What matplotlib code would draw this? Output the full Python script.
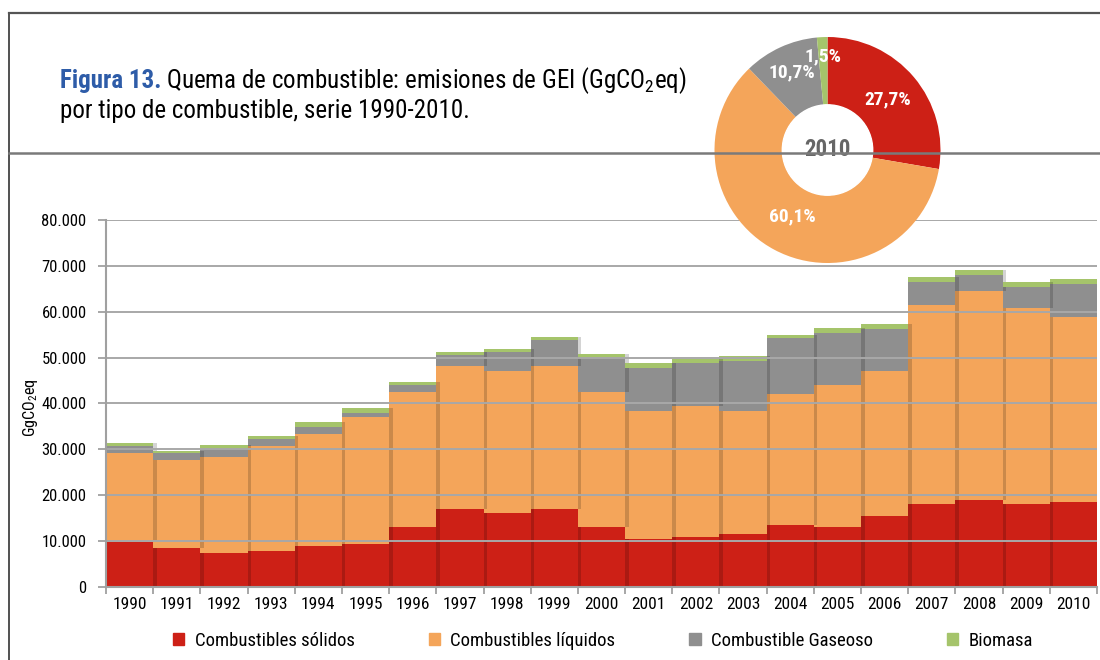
import numpy as np
import matplotlib
matplotlib.use("Agg")
import matplotlib.pyplot as plt
import matplotlib.patches as mpatches
import matplotlib.patheffects as pe
from matplotlib.lines import Line2D
from matplotlib import font_manager as fm
from matplotlib.ticker import FuncFormatter, FixedLocator

# ---------------- data ----------------
years = [str(y) for y in range(1990, 2011)]
solidos = [9740, 8570, 7400, 7840, 9000, 9440, 13140, 16990, 16120, 16990,
           13070, 10460, 10890, 11550, 13510, 13070, 15470, 18080, 18950, 18080, 18520]
liquidos = [19520, 19170, 20990, 22950, 24400, 27660, 29410, 31230, 30940, 31230,
            29410, 27880, 28610, 26790, 28540, 30940, 31590, 43360, 45540, 42700, 40300]
gaseoso = [1460, 1520, 1960, 1520, 1520, 880, 1460, 2320, 4210, 5660,
           7340, 9440, 9230, 10960, 12270, 11390, 9220, 5080, 3550, 4650, 7260]
biomasa = [650, 440, 590, 590, 1030, 1020, 650, 660, 580, 590,
           940, 1020, 870, 960, 580, 1030, 1020, 1020, 1020, 1020, 1020]
series_names = ["Combustibles sólidos", "Combustibles líquidos",
                "Combustible Gaseoso", "Biomasa"]
pie_year = "2010"
pie_share = [27.7, 60.1, 10.7, 1.5]
yticks = [0, 10000, 20000, 30000, 40000, 50000, 60000, 70000, 80000]

colors = ["#cd2016", "#f4a55a", "#8f8f8f", "#a5c46b"]
blue = "#2e5ca8"


def pick(cands):
    for c in cands:
        try:
            fm.findfont(fm.FontProperties(family=c), fallback_to_default=False)
            return c
        except Exception:
            pass
    return "DejaVu Sans"


FONT = pick(["Liberation Sans Narrow", "Roboto Condensed", "Open Sans Condensed",
             "Noto Sans Condensed", "Liberation Sans"])
plt.rcParams["font.family"] = [FONT, "DejaVu Sans"]
plt.rcParams["mathtext.fontset"] = "custom"
plt.rcParams["mathtext.rm"] = FONT
plt.rcParams["mathtext.it"] = FONT
plt.rcParams["mathtext.bf"] = FONT + ":bold"

W, H = 1100, 660
fig = plt.figure(figsize=(11, 6.6), dpi=100)
fig.patch.set_facecolor("white")


def fx(px):
    return px / W


def fy(py):
    return 1 - py / H


# ---------------- frame lines ----------------
fig.add_artist(Line2D([fx(9), fx(9)], [fy(13), fy(660)], color="#333333", lw=1.2))
fig.add_artist(Line2D([fx(9), 1], [fy(13), fy(13)], color="#555555", lw=1.6))
fig.add_artist(Line2D([fx(9), 1], [fy(153), fy(153)], color="#7a7a7a", lw=1.8))

# ---------------- bar chart ----------------
ax = fig.add_axes([fx(106), fy(587), fx(1097) - fx(106), fy(219.8) - fy(587)])
x = np.arange(len(years))
bottom = np.zeros(len(years))
shadow = [pe.SimplePatchShadow(offset=(2.5, 0), shadow_rgbFace="black", alpha=0.17),
          pe.Normal()]
for vals, c in zip([solidos, liquidos, gaseoso, biomasa], colors):
    v = np.array(vals, dtype=float)
    bars = ax.bar(x[::-1], v[::-1], bottom=bottom[::-1], width=1.0, color=c,
                  linewidth=0, zorder=1)
    for b in bars:
        b.set_path_effects(shadow)
    bottom = bottom + v

ax.set_xlim(-0.5, len(years) - 0.5)
ax.set_ylim(0, 80000)
ax.set_axisbelow(False)
ax.yaxis.grid(True, color="#a8a8a8", lw=1.4)
ax.yaxis.set_major_locator(FixedLocator(yticks))
ax.yaxis.set_major_formatter(FuncFormatter(lambda v, p: f"{int(v):,}".replace(",", ".")))
for s in ["top", "right"]:
    ax.spines[s].set_visible(False)
for s in ["left", "bottom"]:
    ax.spines[s].set_color("#a0a0a0")
    ax.spines[s].set_linewidth(1.5)
    ax.spines[s].set_zorder(3)
ax.set_xticks(x)
ax.set_xticklabels(years)
ax.set_xticks(np.arange(-0.5, len(years)), minor=True)
ax.tick_params(axis="x", which="major", length=0, pad=7, labelsize=12.5, colors="black")
ax.tick_params(axis="x", which="minor", length=5, width=1.3, color="#a0a0a0")
ax.tick_params(axis="y", length=6, width=1.3, color="#a0a0a0", labelsize=12, pad=8,
               labelcolor="black")

fig.text(fx(31), fy(408), "GgCO$_2$eq", rotation=90, ha="center", va="center", fontsize=11.5)

# ---------------- legend ----------------
handles = [mpatches.Patch(color=c) for c in colors]
fig.legend(handles, series_names, loc="center", bbox_to_anchor=(fx(603), fy(641)),
           ncol=4, frameon=False, fontsize=13.5, handlelength=0.6, handleheight=0.6,
           handletextpad=0.55, columnspacing=3.95)

# ---------------- title ----------------
tsize = 18
t1 = fig.text(fx(60), fy(88), "Figura 13.", fontsize=tsize, fontweight="bold",
              color=blue, ha="left", va="baseline")
fig.canvas.draw()
r = fig.canvas.get_renderer()
bb = t1.get_window_extent(r)
fig.text((bb.x1 + 5) / W, fy(88),
         "Quema de combustible: emisiones de GEI (GgCO$_2$eq)",
         fontsize=tsize, color="black", ha="left", va="baseline")
fig.text(fx(60), fy(118), "por tipo de combustible, serie 1990-2010.",
         fontsize=tsize, color="black", ha="left", va="baseline")

# ---------------- donut ----------------
cx, cy, R = 827.5, 150, 113
pax = fig.add_axes([fx(cx - R), fy(cy + R), 2 * R / W, 2 * R / H])
wedges, _ = pax.pie(pie_share, colors=colors, startangle=90, counterclock=False,
                    radius=1.0, wedgeprops=dict(width=0.6, linewidth=0))
for w in wedges:
    w.set_clip_on(False)
pax.add_patch(mpatches.Circle((0, 0), 0.4, color="white", zorder=5, clip_on=False))
pax.set_xlim(-1, 1)
pax.set_ylim(-1, 1)
pax.set_aspect("equal")
pax.axis("off")
label_r = [0.70, 0.66, 0.76, 0.83]
for w, val, rr in zip(wedges, pie_share, label_r):
    ang = np.deg2rad((w.theta1 + w.theta2) / 2)
    pax.text(rr * np.cos(ang), rr * np.sin(ang), f"{val:.1f}%".replace(".", ","),
             ha="center", va="center", color="white", fontsize=14,
             fontweight="bold", zorder=6)
pax.text(0, 0, pie_year, ha="center", va="center", color="#666666",
         fontsize=16.5, fontweight="bold", zorder=6)

fig.savefig("out.png", dpi=100, facecolor="white")
